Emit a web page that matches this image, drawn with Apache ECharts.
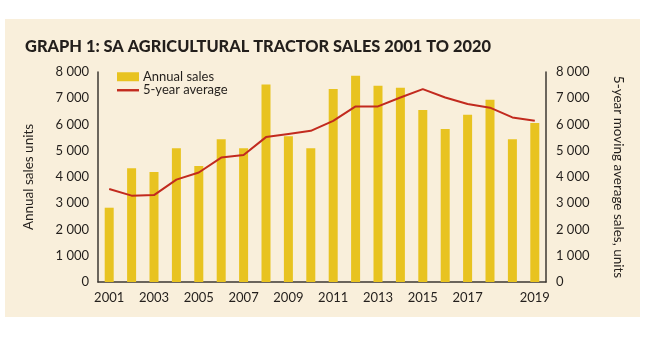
<!DOCTYPE html>
<html><head><meta charset="utf-8">
<script src="https://cdn.jsdelivr.net/npm/echarts@6/dist/echarts.min.js"></script>
<style>html,body{margin:0;padding:0;background:#fff}#c{width:645px;height:338px}</style>
</head><body><div id="c"></div>
<script>
var years = ['2001','2002','2003','2004','2005','2006','2007','2008','2009','2010','2011','2012','2013','2014','2015','2016','2017','2018','2019','2020'];
var xTickLabels = ['2001','','2003','','2005','','2007','','2009','','2011','','2013','','2015','','2017','','','2019'];
var annualSales = [2830,4330,4190,5100,4420,5440,5100,7520,5550,5100,7350,7860,7480,7400,6550,5830,6370,6940,5440,6060];
var fiveYearAvg = [3540,3290,3310,3900,4170,4740,4840,5520,5640,5760,6140,6690,6690,7030,7350,7030,6780,6640,6270,6140];
var yTicks = [0,1000,2000,3000,4000,5000,6000,7000,8000];

var FONT = 'Lato';
var TXT = '#231f1c';
var AX = '#3d3833';
function fmt(v){ return String(v).replace(/\B(?=(\d{3})+(?!\d))/g,' '); }
var yBase = {
  type:'value', min:yTicks[0], max:yTicks[yTicks.length-1], interval:yTicks[1]-yTicks[0],
  splitLine:{show:false},
  axisLine:{show:true, lineStyle:{color:AX, width:1.5}},
  axisTick:{show:false},
  nameLocation:'middle',
  nameTextStyle:{fontFamily:FONT, fontSize:13.5, color:TXT},
  axisLabel:{fontFamily:FONT, fontSize:13, color:TXT, formatter:fmt}
};
var chart = echarts.init(document.getElementById('c'), null, {renderer:'canvas'});
chart.setOption({
  animation:false,
  backgroundColor:'#ffffff',
  graphic:[{type:'rect', z:-10, shape:{x:5,y:19,width:635,height:298}, style:{fill:'#f9efdb'}}],
  title:{text:'GRAPH 1: SA AGRICULTURAL TRACTOR SALES 2001 TO 2020', left:20, top:34,
    textStyle:{fontFamily:FONT, fontWeight:900, fontSize:16.4, color:TXT}},
  legend:{left:117, top:70, padding:0, orient:'vertical', itemWidth:22, itemHeight:9, itemGap:0,
    textStyle:{fontFamily:FONT, fontSize:13, lineHeight:13.5, color:TXT, padding:[0,0,0,-1]},
    data:[{name:'Annual sales', icon:'rect'},
          {name:'5-year average', icon:'path://M0,0M0,9M0,3.3L22,3.3L22,5.7L0,5.7Z', itemStyle:{color:'#c22a1e'}}]},
  grid:{left:98, right:99, top:72, bottom:56},
  xAxis:{type:'category', data:years,
    axisLine:{show:true, lineStyle:{color:AX, width:1.5}},
    axisTick:{show:false},
    axisLabel:{interval:0, margin:9, fontFamily:FONT, fontSize:13, color:TXT,
      formatter:function(v,i){return xTickLabels[i];}}},
  yAxis:[
    Object.assign({}, yBase, {position:'left', name:'Annual sales units', nameGap:62, nameRotate:90,
      axisLabel:Object.assign({}, yBase.axisLabel, {margin:9})}),
    Object.assign({}, yBase, {position:'right', name:'5-year moving average sales, units', nameGap:65, nameRotate:-90,
      axisLabel:Object.assign({}, yBase.axisLabel, {margin:10})})
  ],
  series:[
    {name:'Annual sales', type:'bar', data:annualSales, barWidth:9, itemStyle:{color:'#e8c320'}},
    {name:'5-year average', type:'line', yAxisIndex:1, data:fiveYearAvg, symbol:'none',
      lineStyle:{color:'#c22a1e', width:2}, itemStyle:{color:'#c22a1e'}}
  ]
});
</script></body></html>
